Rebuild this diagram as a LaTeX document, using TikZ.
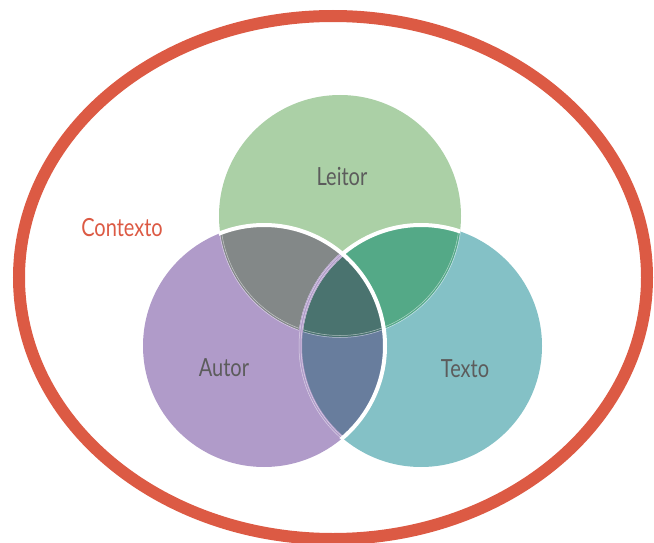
\documentclass[tikz,border=0pt]{standalone}
\usepackage{fontspec}
\setmainfont{Lato}[FakeStretch=0.8]
\definecolor{leitorc}{HTML}{ABD0A6}
\definecolor{autorc}{HTML}{B09BC9}
\definecolor{textoc}{HTML}{84C1C6}
\definecolor{lac}{HTML}{838888}
\definecolor{ltc}{HTML}{54A987}
\definecolor{atc}{HTML}{687D9D}
\definecolor{latc}{HTML}{4A736F}
\definecolor{redc}{HTML}{DC5A44}
\definecolor{txtc}{HTML}{5C5C5C}
\tikzset{
  lbl/.style={anchor=base, text=txtc, font=\fontsize{25}{30}\selectfont, inner sep=0pt},
  thickwhite/.style={draw=white, line width=4pt},
  faint/.style={draw=white, opacity=0.55, line width=0.5pt},
}
\begin{document}
\begin{tikzpicture}[x=1pt,y=-1pt]
\useasboundingbox (0,0) rectangle (654,543);
\def\rr{121pt}
\coordinate (L) at (340,216);
\coordinate (A) at (264,346);
\coordinate (T) at (421,346);
% context ellipse
\draw[redc, line width=12pt] (333,277.5) ellipse [x radius=314pt, y radius=261.5pt];
% base circles
\fill[leitorc] (L) circle (\rr);
\fill[autorc] (A) circle (\rr);
\fill[textoc] (T) circle (\rr);
% pairwise overlaps
\begin{scope}\clip (L) circle (\rr); \fill[lac] (A) circle (\rr); \end{scope}
\begin{scope}\clip (L) circle (\rr); \fill[ltc] (T) circle (\rr); \end{scope}
\begin{scope}\clip (A) circle (\rr); \fill[atc] (T) circle (\rr); \end{scope}
\begin{scope}\clip (L) circle (\rr); \clip (A) circle (\rr); \fill[latc] (T) circle (\rr); \end{scope}
% faint lines along Leitor's arc
\begin{scope}\clip (A) circle (\rr) (T) circle (\rr);
  \draw[faint] (L) circle (119.5pt);
  \draw[faint] (L) circle (121.5pt);
\end{scope}
% Texto arc inside Leitor: thick white
\begin{scope}\clip (L) circle (\rr); \draw[thickwhite] (T) circle (\rr); \end{scope}
% Texto arc inside Autor: purple strip with faint lines
\begin{scope}\clip (A) circle (\rr);
  \draw[autorc, line width=4pt] (T) circle (\rr);
  \draw[faint] (T) circle (120pt);
  \draw[faint] (T) circle (122pt);
\end{scope}
% Autor arc inside Leitor and Texto: thick white
\begin{scope}\clip (L) circle (122.5pt) (T) circle (123pt);
  \draw[thickwhite] (A) circle (\rr);
\end{scope}
% labels
\node[lbl] (leitor) at (342,185) {Leitor};
\node[lbl] (autor) at (224,376) {Autor};
\node[lbl] (texto) at (465,377) {Texto};
\node[lbl, text=redc] (contexto) at (122,236) {Contexto};
\end{tikzpicture}
\end{document}
